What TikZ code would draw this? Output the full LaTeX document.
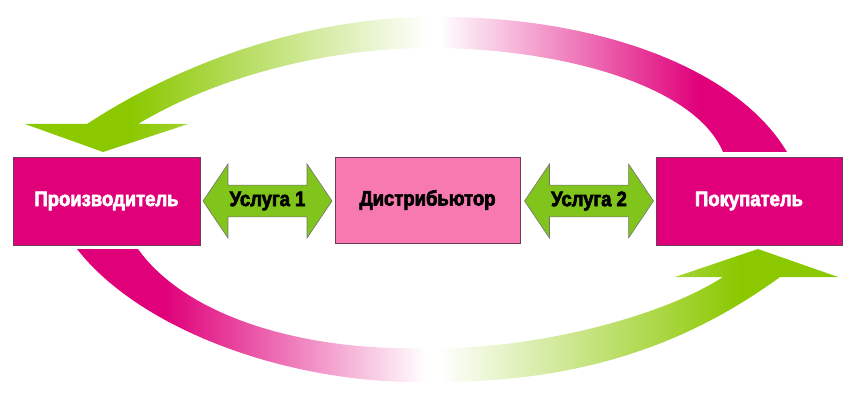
\documentclass[tikz,border=0pt]{standalone}
\usepackage{fontspec}
\usepackage{tikz}
\usetikzlibrary{shapes.arrows}
\newfontfamily\boxfont{Liberation Sans Bold}[FakeStretch=0.88,FakeBold=3]
\definecolor{deep_pink}{HTML}{E0007A}
\definecolor{soft_pink}{HTML}{F878B0}
\definecolor{leaf_green}{HTML}{8BC800}
\definecolor{arrow_green}{HTML}{80C41C}
\definecolor{box_edge}{HTML}{6E3A57}
\pgfdeclarehorizontalshading{toparc}{100bp}{color(0bp)=(leaf_green); color(31.9bp)=(leaf_green); color(51.4bp)=(white); color(52.2bp)=(white); color(69.3bp)=(deep_pink); color(100bp)=(deep_pink)}
\pgfdeclarehorizontalshading{bottomarc}{100bp}{color(0bp)=(deep_pink); color(30.8bp)=(deep_pink); color(47.9bp)=(white); color(48.8bp)=(white); color(68.6bp)=(leaf_green); color(100bp)=(leaf_green)}

\begin{document}
\begin{tikzpicture}[x=1pt, y=-1pt,
    box/.style={draw=box_edge, line width=0.8pt, fill=deep_pink, text=white, minimum width=187pt, minimum height=88pt, font=\boxfont\fontsize{21}{25}\selectfont},
    service/.style={double arrow, draw=black!55, line width=0.6pt, fill=arrow_green, minimum height=129pt, minimum width=74pt, double arrow head extend=13pt, double arrow tip angle=112, double arrow head indent=0pt, inner sep=0pt, font=\boxfont\fontsize{21}{25}\selectfont}]
    \useasboundingbox (0,0) rectangle (850,403);

    % Draw the three parties
    \node[box] (prod) at (106.5,201) {Производитель};
    \node[box, fill=soft_pink, text=black, minimum width=185pt, minimum height=86pt] (dist) at (427.5,200) {Дистрибьютор};
    \node[box, minimum width=186pt] (buyer) at (749,201) {Покупатель};

    % Draw the services between them
    \node[service] (s1) at (267.5,201) {Услуга 1};
    \node[service] (s2) at (589,201) {Услуга 2};

    % Draw the flow from buyer back to producer
    \shade[shading=toparc] (87,124) .. controls (200,50) and (330,17) .. (430,17)
        .. controls (590,15) and (735,65) .. (787,152) -- (723,152)
        .. controls (695,85) and (560,48) .. (430,48)
        .. controls (330,48) and (220,75) .. (138,124)
        -- (188,124) -- (103,152) -- (25,124) -- cycle;

    % Draw the flow from producer to buyer
    \shade[shading=bottomarc] (77,249) .. controls (140,330) and (290,385) .. (430,382)
        .. controls (570,383) and (680,350) .. (780,277)
        -- (838,277) -- (758,249) -- (675,277) -- (723,277)
        .. controls (660,318) and (530,350) .. (430,348)
        .. controls (300,352) and (185,315) .. (138,249) -- cycle;
\end{tikzpicture}
\end{document}
